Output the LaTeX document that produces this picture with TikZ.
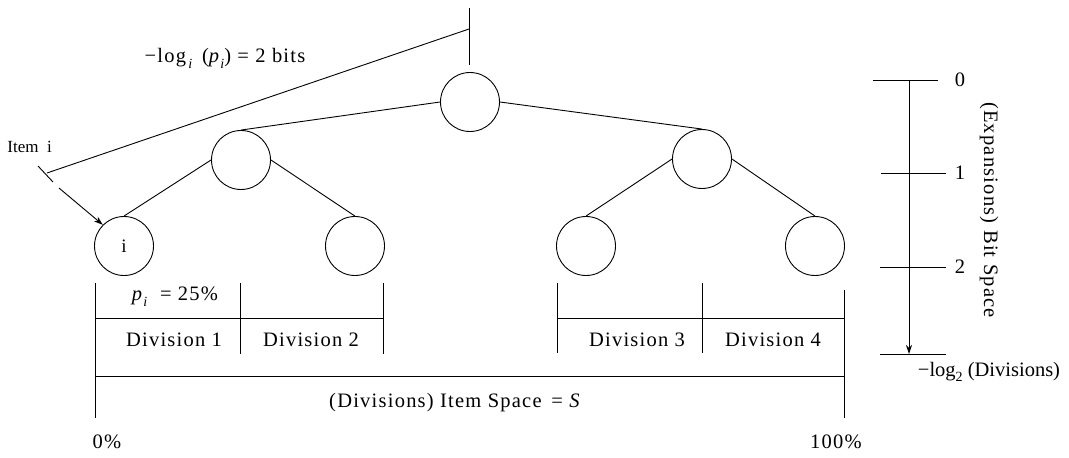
\documentclass[tikz,border=0pt]{standalone}
\usepackage{fontspec}
\setmainfont{Liberation Serif}
\newfontfamily\trk[LetterSpace=6]{Liberation Serif}
\usetikzlibrary{arrows.meta}
\begin{document}
\begin{tikzpicture}[x=1pt,y=-1pt,line width=0.9pt,
  tn/.style={circle,draw,minimum size=59pt,inner sep=0pt,font=\fontsize{19}{22}\selectfont},
  lbl/.style={inner sep=0pt,font=\trk\fontsize{20.5}{24}\selectfont},
  plain/.style={inner sep=0pt,font=\fontsize{20.5}{24}\selectfont},
  sml/.style={inner sep=0pt,font=\fontsize{17}{20}\selectfont},
  arr/.style={-{Stealth[length=9pt,width=6pt]}}]
\useasboundingbox (0,0) rectangle (1069,458);
% tree
\node[tn] (root) at (470,102) {};
\node[tn] (l1) at (241,160) {};
\node[tn] (r1) at (702,159) {};
\node[tn] (a) at (124,246) {i};
\node[tn] (b) at (355,246) {};
\node[tn] (c) at (586,246) {};
\node[tn] (d) at (815,246) {};
\draw (root.west) -- (l1.north);
\draw (root.east) -- (r1.north);
\draw (l1.west) -- (a.north);
\draw (l1.east) -- (b.north);
\draw (r1.west) -- (c.north);
\draw (r1.east) -- (d.north);
% path length indicator
\coordinate (vt) at (469,8);
\coordinate (vb) at (469,65);
\coordinate (dj) at (469,29);
\coordinate (de) at (47,173);
\coordinate (tk1) at (38,166);
\coordinate (tk2) at (53,182);
\draw (vt) -- (vb);
\draw (dj) -- (de);
\draw (tk1) -- (tk2);
\node[lbl] (logi) at (225,58) {−log\raisebox{-6pt}{\fontsize{14}{14}\selectfont\itshape\,i}\,
  (\textit{p}\raisebox{-6pt}{\fontsize{14}{14}\selectfont\itshape i}) = 2 bits};
\node[sml,anchor=west] (item) at (7,147) {Item\ \ i};
\coordinate (as) at (59,188);
\draw[arr] (as) -- (a.north west);
% divisions
\draw (95,283) -- (95,418);
\draw (240,283) -- (240,354);
\draw (383,283) -- (383,354);
\draw (95,318) -- (383,318);
\draw (557,283) -- (557,353);
\draw (702,283) -- (702,353);
\draw (844,290) -- (844,418);
\draw (557,318) -- (844,318);
\draw (95,376) -- (844,376);
\node[lbl] (pi) at (175,297) {\textit{p}\raisebox{-6pt}{\fontsize{14}{14}\selectfont\itshape i}\ \ = 25\%};
\node[lbl] (d1) at (174,340) {Division 1};
\node[lbl] (d2) at (311,340) {Division 2};
\node[lbl] (d3) at (637,340) {Division 3};
\node[lbl] (d4) at (773,340) {Division 4};
\node[lbl] (isp) at (455,403) {(Divisions) Item Space \,= \textit{S}};
\node[lbl] (p0) at (107,442) {0\%};
\node[lbl] (p100) at (836,442) {100\%};
% bit space scale
\coordinate (st) at (909,80);
\coordinate (sb) at (909,354);
\draw[arr] (st) -- (sb);
\draw (873,80) -- (938,80);
\draw (881,173) -- (946,173);
\draw (880,267) -- (946,267);
\draw (880,354) -- (946,354);
\node[lbl] (s0) at (960,80) {0};
\node[lbl] (s1) at (960,173) {1};
\node[lbl] (s2) at (960,267) {2};
\node[lbl,rotate=-90] (bs) at (989,210) {(Expansions) Bit Space};
\node[plain] (lg) at (989,372) {−log\raisebox{-5pt}{\fontsize{14}{14}\selectfont 2} (Divisions)};
\end{tikzpicture}
\end{document}
